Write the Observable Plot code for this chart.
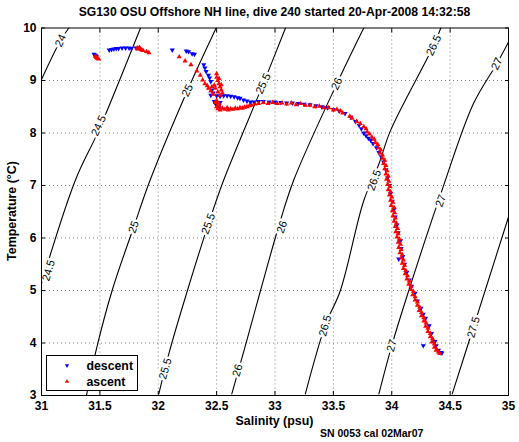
<!DOCTYPE html>
<html>
<head>
<meta charset="utf-8">
<script src="https://cdn.jsdelivr.net/npm/d3@7"></script>
<script src="https://cdn.jsdelivr.net/npm/@observablehq/plot@0.6"></script>
<style>
  html, body { margin: 0; padding: 0; background: #fff; }
  #wrap { position: relative; width: 519px; height: 442px; font-family: "Liberation Sans", Arial, Helvetica, sans-serif; font-weight: bold; color: #000; }
  #wrap svg { display: block; }
  .ov { position: absolute; white-space: nowrap; line-height: 1; }
</style>
</head>
<body>
<div id="wrap"></div>
<script>
// ---------- data ----------
const titleText = "SG130 OSU Offshore NH line, dive 240 started 20-Apr-2008 14:32:58";
const xLabel = "Salinity (psu)";
const yLabel = "Temperature (°C)";
const caption = "SN 0053 cal 02Mar07";
const seriesNames = ["descent", "ascent"];

const xTicks = [31, 31.5, 32, 32.5, 33, 33.5, 34, 34.5, 35];
const yTicks = [3, 4, 5, 6, 7, 8, 9, 10];

// sigma-t contour lines, [salinity, temperature] points
const contourLevels = [24, 24.5, 25, 25.5, 26, 26.5, 27, 27.5];
const c24   = [[31.234, 10.0], [31.163, 9.76], [30.99, 8.97]];
const c24_5 = [[31.848, 10.0], [31.49, 8.05], [31.29, 7.10], [30.99, 5.06]];
const c25   = [[32.496, 10.0], [32.25, 8.81], [31.93, 7.10], [31.79, 6.21], [31.605, 5.0], [31.46, 3.79], [31.385, 3.0]];
const c25_5 = [[33.09, 10.0], [32.90, 8.94], [32.56, 7.10], [32.43, 6.27], [32.25, 5.0], [32.09, 3.79], [32.005, 3.03]];
const c26   = [[33.76, 10.0], [33.53, 8.94], [33.16, 7.10], [33.03, 6.21], [32.876, 5.0], [32.75, 3.98], [32.63, 3.03]];
const c26_5 = [[34.42, 10.0], [34.36, 9.67], [33.99, 8.05], [33.89, 7.41], [33.76, 6.71], [33.56, 5.0], [33.43, 4.33], [33.26, 3.03]];
const c27   = [[35.0, 9.73], [34.90, 9.32], [34.70, 8.56], [34.42, 6.84], [34.146, 5.0], [34.00, 3.95], [33.89, 3.03]];
const c27_5 = [[35.0, 6.40], [34.80, 5.0], [34.70, 4.30], [34.518, 3.03]];
const contourPoints = [c24, c24_5, c25, c25_5, c26, c26_5, c27, c27_5];

// inline contour labels: [text, salinity, temperature]
const contourLabels = [
  ["24", 31.163, 9.76],
  ["24.5", 31.49, 8.14], ["24.5", 31.06, 5.38],
  ["25", 32.25, 8.81], ["25", 31.79, 6.21],
  ["25.5", 32.90, 8.94], ["25.5", 32.43, 6.27], ["25.5", 32.06, 3.51],
  ["26", 33.53, 8.94], ["26", 33.06, 6.21], ["26", 32.68, 3.48],
  ["26.5", 34.36, 9.67], ["26.5", 33.85, 7.10], ["26.5", 33.43, 4.33],
  ["27", 34.90, 9.32], ["27", 34.42, 6.71], ["27", 34.00, 3.95],
  ["27.5", 34.70, 4.30]
];

// descent (blue, downward triangles): [salinity, temperature]
const descent = [
  [31.45,9.50],[31.46,9.48],[31.47,9.46],
  [31.58,9.58],[31.60,9.59],[31.62,9.60],[31.64,9.61],[31.66,9.61],[31.69,9.62],[31.72,9.62],[31.75,9.62],[31.77,9.61],[31.81,9.62],
  [32.12,9.58],[32.24,9.56],[32.26,9.55],[32.29,9.51],[32.31,9.50],
  [32.39,9.30],[32.40,9.24],[32.41,9.17],[32.43,9.10],[32.44,9.05],[32.45,8.98],
  [32.46,8.82],[32.45,8.72],[32.47,8.76],
  [32.50,8.71],[32.53,8.70],[32.56,8.71],[32.59,8.71],[32.62,8.70],[32.65,8.69],[32.68,8.67],[32.70,8.66],[32.73,8.63],[32.76,8.61],[32.79,8.59],[32.82,8.59],
  [32.48,8.60],[32.49,8.56],[32.50,8.54],[32.51,8.50],[32.52,8.52],[32.53,8.58],[32.50,8.58],[32.52,8.48],
  [32.86,8.60],[32.90,8.60],[32.95,8.59],[33.00,8.59],[33.05,8.58],[33.10,8.57],[33.15,8.57],[33.20,8.56],[33.25,8.55],[33.30,8.54],
  [33.35,8.52],[33.40,8.50],[33.45,8.48],[33.50,8.45],[33.55,8.42],[33.60,8.37],[33.65,8.30],[33.69,8.22],[33.72,8.15],[33.74,8.08],
  [33.76,8.00],[33.78,7.95],[33.80,7.90],[33.82,7.86],[33.84,7.80],[33.87,7.72],[33.89,7.63],[33.91,7.55],[33.93,7.45],[33.95,7.30],
  [33.965,7.15],[33.98,7.00],[33.99,6.85],[34.005,6.70],[34.02,6.55],[34.03,6.40],[34.045,6.25],[34.055,6.10],[34.075,5.95],[34.08,5.80],
  [34.06,5.60],[34.095,5.65],[34.11,5.50],[34.13,5.35],[34.15,5.20],[34.17,5.08],[34.20,4.95],[34.22,4.80],[34.25,4.66],[34.27,4.55],
  [34.29,4.47],[34.32,4.33],[34.34,4.18],[34.37,4.03],[34.38,3.95],[34.40,3.86],[34.42,3.82],[34.43,3.81],[34.27,3.95]
];

// ascent (red, upward triangles): [salinity, temperature]
const ascent = [
  [31.47,9.44],[31.48,9.42],[31.46,9.46],[31.49,9.41],
  [31.82,9.62],[31.83,9.60],[31.84,9.63],[31.85,9.59],[31.86,9.58],[31.87,9.57],[31.90,9.55],[31.92,9.53],
  [32.18,9.45],[32.23,9.37],[32.28,9.30],[32.33,9.18],[32.36,9.10],[32.38,9.01],[32.40,8.94],[32.42,8.90],
  [32.50,9.13],[32.50,9.06],[32.51,9.00],[32.52,8.94],[32.53,8.88],[32.54,8.82],[32.55,8.76],[32.53,8.72],[32.48,8.91],
  [32.46,8.88],[32.43,8.85],[32.45,8.80],[32.49,8.85],[32.52,9.04],[32.54,8.92],[32.51,8.78],[32.47,8.74],
  [32.49,8.58],[32.50,8.62],[32.52,8.56],[32.51,8.52],
  [32.50,8.50],[32.51,8.46],[32.52,8.53],[32.53,8.44],[32.55,8.47],[32.57,8.45],[32.59,8.48],[32.60,8.44],[32.62,8.46],[32.64,8.45],
  [32.66,8.47],[32.68,8.46],[32.70,8.48],[32.72,8.47],[32.74,8.49],[32.76,8.50],[32.78,8.52],[32.80,8.53],[32.83,8.55],
  [32.86,8.56],[32.90,8.58],[32.94,8.56],[32.98,8.58],[33.02,8.56],[33.06,8.57],[33.10,8.55],[33.14,8.57],[33.18,8.54],[33.22,8.56],
  [33.26,8.53],[33.30,8.53],[33.34,8.50],[33.38,8.51],[33.42,8.48],[33.46,8.48],[33.50,8.44],[33.53,8.45],
  [33.56,8.42],[33.58,8.38],[33.64,8.32],[33.66,8.28],[33.70,8.22],[33.73,8.18],[33.76,8.12],[33.78,8.08],[33.79,8.02],[33.81,7.98],
  [33.83,7.92],[33.85,7.88],[33.86,7.82],[33.88,7.78],[33.885,7.72],[33.905,7.68],[33.90,7.62],[33.92,7.58],[33.92,7.52],[33.94,7.48],
  [33.93,7.42],[33.95,7.38],[33.94,7.32],[33.96,7.28],[33.95,7.22],[33.97,7.18],[33.955,7.12],[33.975,7.08],[33.965,7.02],[33.985,6.98],
  [33.97,6.92],[33.99,6.88],[33.98,6.82],[34.00,6.78],[33.99,6.72],[34.01,6.68],[33.995,6.62],[34.02,6.58],[34.005,6.52],[34.025,6.48],
  [34.01,6.42],[34.03,6.38],[34.02,6.32],[34.04,6.28],[34.03,6.22],[34.05,6.18],[34.035,6.12],[34.055,6.08],[34.045,6.02],[34.065,5.98],
  [34.055,5.92],[34.075,5.88],[34.06,5.82],[34.08,5.78],[34.07,5.72],[34.09,5.68],[34.08,5.62],[34.10,5.58],[34.09,5.52],[34.11,5.48],
  [34.10,5.42],[34.12,5.38],[34.115,5.32],[34.135,5.28],[34.13,5.22],[34.15,5.18],[34.145,5.12],[34.165,5.08],[34.165,5.02],[34.185,4.98],
  [34.18,4.92],[34.20,4.88],[34.20,4.82],[34.22,4.78],[34.22,4.72],[34.24,4.68],[34.235,4.62],[34.255,4.58],[34.255,4.52],[34.275,4.48],
  [34.275,4.42],[34.295,4.38],[34.29,4.32],[34.31,4.28],[34.31,4.22],[34.33,4.18],[34.33,4.12],[34.35,4.08],[34.345,4.02],[34.365,3.98],
  [34.365,3.92],[34.385,3.88],[34.38,3.86],[34.40,3.83],[34.41,3.80]
];

// ---------- build tables ----------
const contourRows = contourLevels.flatMap((lev, i) => contourPoints[i].map(([S, T]) => ({level: lev, S, T})));
const labelRows = contourLabels.map(([text, S, T]) => ({text, S, T}));
const descentRows = descent.map(([S, T]) => ({S, T}));
const ascentRows = ascent.map(([S, T]) => ({S, T}));

const BLUE = "#0000ff", RED = "#ff0000";
const FONT = "'Liberation Sans', Arial, Helvetica, sans-serif";

const chart = Plot.plot({
  width: 519,
  height: 442,
  marginTop: 27.5,
  marginBottom: 47,
  marginLeft: 41,
  marginRight: 11,
  style: {fontFamily: FONT, fontSize: "12px", fontWeight: "bold", background: "white", color: "black"},
  x: {domain: [31, 35]},
  y: {domain: [3, 10]},
  marks: [
    Plot.gridX(xTicks.slice(1, -1), {stroke: "#000", strokeOpacity: 0.5, strokeDasharray: "1,3", strokeWidth: 1}),
    Plot.gridY(yTicks.slice(1, -1), {stroke: "#000", strokeOpacity: 0.5, strokeDasharray: "1,3", strokeWidth: 1}),
    Plot.line(contourRows, {x: "S", y: "T", z: "level", curve: "catmull-rom", stroke: "black", strokeWidth: 1.1, clip: true}),
    Plot.text(labelRows, {
      x: "S", y: "T", text: "text",
      rotate: d => d.T > 8 ? -65 : d.T > 5.5 ? -70 : -74,
      fontSize: 11, fontWeight: "normal", fill: "black",
      stroke: "white", strokeWidth: 5
    }),
    Plot.dot(descentRows, {x: "S", y: "T", symbol: "triangle", rotate: 180, r: 1.9, fill: BLUE, stroke: "none"}),
    Plot.dot(ascentRows, {x: "S", y: "T", symbol: "triangle", r: 1.9, fill: RED, stroke: "none"}),
    Plot.axisX(xTicks, {anchor: "bottom", tickSize: -4, tickPadding: 10, label: null, tickFormat: d => String(d), fontSize: 12, fontWeight: "bold"}),
    Plot.axisX(xTicks, {anchor: "top", tickSize: -4, label: null, tickFormat: () => ""}),
    Plot.axisY(yTicks, {anchor: "left", tickSize: -4, tickPadding: 9, label: null, tickFormat: d => String(d), fontSize: 12, fontWeight: "bold"}),
    Plot.axisY(yTicks, {anchor: "right", tickSize: -4, label: null, tickFormat: () => ""}),
    Plot.frame({stroke: "black", strokeWidth: 1})
  ]
});

const wrap = document.getElementById("wrap");
wrap.appendChild(chart);

function overlay(text, css) {
  const d = document.createElement("div");
  d.className = "ov";
  d.textContent = text;
  Object.assign(d.style, css);
  wrap.appendChild(d);
  return d;
}

overlay(titleText, {left: "274.5px", top: "6px", transform: "translateX(-50%)", fontSize: "12.2px"});
overlay(xLabel, {left: "274.5px", top: "415px", transform: "translateX(-50%)", fontSize: "12.4px"});
overlay(caption, {left: "320px", top: "428px", fontSize: "10.5px"});
overlay(yLabel, {left: "12px", top: "211px", transform: "translate(-50%, -50%) rotate(-90deg)", fontSize: "12.4px"});

// legend box
const legend = document.createElement("div");
Object.assign(legend.style, {
  position: "absolute", left: "46px", top: "355px", width: "90px", height: "34px",
  border: "1px solid #000", background: "#fff"
});
const ns = "http://www.w3.org/2000/svg";
const lsvg = document.createElementNS(ns, "svg");
lsvg.setAttribute("width", "90"); lsvg.setAttribute("height", "34");
lsvg.style.position = "absolute"; lsvg.style.left = "0"; lsvg.style.top = "0";
const legendColors = [BLUE, RED];
const tri = d3.symbol(d3.symbolTriangle, Math.PI * 1.6 * 1.6)();
seriesNames.forEach((name, i) => {
  const cy = 9.5 + i * 16;
  const p = document.createElementNS(ns, "path");
  p.setAttribute("d", tri);
  p.setAttribute("fill", legendColors[i]);
  p.setAttribute("transform", `translate(20,${cy}) rotate(${i === 0 ? 180 : 0})`);
  lsvg.appendChild(p);
  const t = document.createElementNS(ns, "text");
  t.setAttribute("x", "39.5");
  t.setAttribute("y", String(cy));
  t.setAttribute("dy", "0.35em");
  t.setAttribute("font-family", FONT);
  t.setAttribute("font-weight", "bold");
  t.setAttribute("font-size", "12.3");
  t.textContent = name;
  lsvg.appendChild(t);
});
legend.appendChild(lsvg);
wrap.appendChild(legend);
</script>
</body>
</html>
